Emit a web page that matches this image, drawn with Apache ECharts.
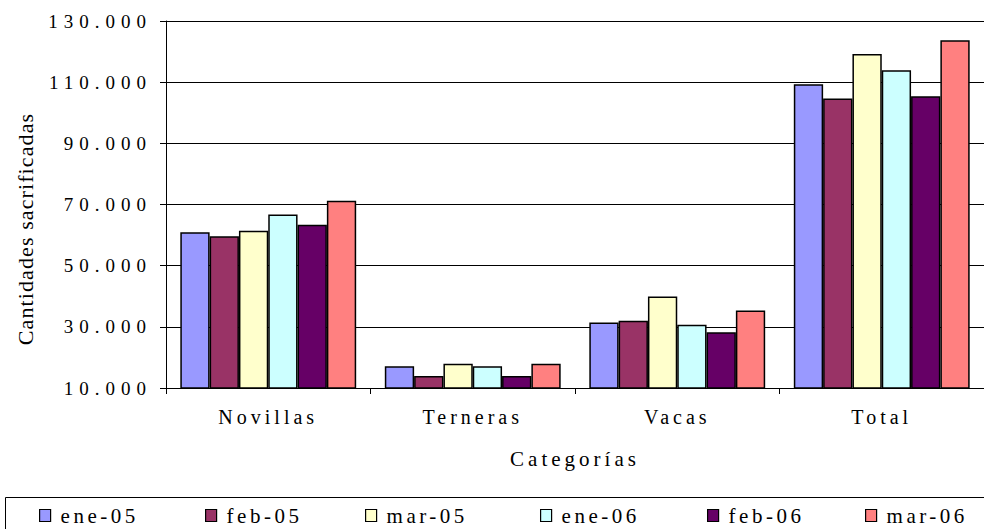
<!DOCTYPE html>
<html>
<head>
<meta charset="utf-8">
<script src="https://cdn.jsdelivr.net/npm/echarts@6/dist/echarts.min.js"></script>
<style>
  html, body { margin: 0; padding: 0; background: #fff; }
  #chart { width: 984px; height: 529px; }
  #chart text[style*="Liberation"] { letter-spacing: 1.1px; }
  #chart text[style*="Nimbus"] { letter-spacing: 6px; }
  #chart text[style*="Times"] { letter-spacing: 3.5px; }
  #chart text[style*="Times New"] { letter-spacing: 4px; }
</style>
</head>
<body>
<div id="chart"></div>
<script>
const categories = ['Novillas', 'Terneras', 'Vacas', 'Total'];
const seriesNames = ['ene-05', 'feb-05', 'mar-05', 'ene-06', 'feb-06', 'mar-06'];
const ene05 = [60900, 17100, 31400, 109300];
const feb05 = [59600, 13900, 32000, 104700];
const mar05 = [61400, 17900, 39900, 119200];
const ene06 = [66700, 17100, 30700, 113900];
const feb06 = [63400, 13900, 28200, 105400];
const mar06 = [71200, 17900, 35300, 123700];
const seriesValues = [ene05, feb05, mar05, ene06, feb06, mar06];
const colors = ['#9999FF', '#993366', '#FFFFCC', '#CCFFFF', '#660066', '#FF8080'];
const legendLefts = [39, 205, 365, 540, 707, 865];

const tickFont = '"Nimbus Roman", "Liberation Serif"';
const catFont = 'Times New Roman';
const legendFont = 'Times';
const fmt = v => String(v).replace(/\B(?=(\d{3})+(?!\d))/g, '.');

const chart = echarts.init(document.getElementById('chart'), null, { renderer: 'svg' });
const option = {
  animation: false,
  backgroundColor: '#ffffff',
  grid: { left: 166, right: 0, top: 21, height: 367 },
  legend: seriesNames.map((n, i) => ({
    data: [n],
    left: legendLefts[i],
    top: 505,
    icon: 'rect',
    itemWidth: 11,
    itemHeight: 12,
    itemGap: 0,
    padding: 0,
    itemStyle: { borderColor: '#000', borderWidth: 1.2 },
    textStyle: { fontFamily: legendFont, fontSize: 21, color: '#000', padding: [0, 0, 0, 5] }
  })),
  xAxis: {
    type: 'category',
    data: categories,
    name: 'Categorías',
    nameLocation: 'middle',
    nameGap: 60,
    nameTextStyle: { fontFamily: catFont, fontSize: 21, color: '#000' },
    axisLine: { lineStyle: { color: '#000', width: 1 } },
    axisTick: { show: true, length: 6, lineStyle: { color: '#000' } },
    axisLabel: { fontFamily: catFont, fontSize: 20, color: '#000', margin: 19 },
    splitLine: { show: false }
  },
  yAxis: {
    type: 'value',
    min: 10000,
    max: 130000,
    interval: 20000,
    axisLine: { show: true, lineStyle: { color: '#000', width: 1 } },
    axisTick: { show: true, length: 6, lineStyle: { color: '#000' } },
    axisLabel: { fontFamily: tickFont, fontSize: 19, color: '#000', margin: 14, formatter: fmt },
    splitLine: { show: true, lineStyle: { color: '#000', width: 1 } }
  },
  graphic: [
    {
      type: 'text',
      x: 25,
      y: 229,
      rotation: Math.PI / 2,
      style: {
        text: 'Cantidades sacrificadas',
        font: '22px "Liberation Serif"',
        fill: '#000',
        align: 'center',
        verticalAlign: 'middle'
      }
    },
    {
      type: 'rect',
      shape: { x: 5.5, y: 497.5, width: 990, height: 60 },
      style: { fill: 'none', stroke: '#000', lineWidth: 1 },
      silent: true
    }
  ],
  series: seriesNames.map((n, i) => ({
    name: n,
    type: 'bar',
    data: seriesValues[i],
    barGap: '0%',
    barCategoryGap: '14%',
    itemStyle: { color: colors[i], borderColor: '#000', borderWidth: 1.5 }
  }))
};
chart.setOption(option);
</script>
</body>
</html>
